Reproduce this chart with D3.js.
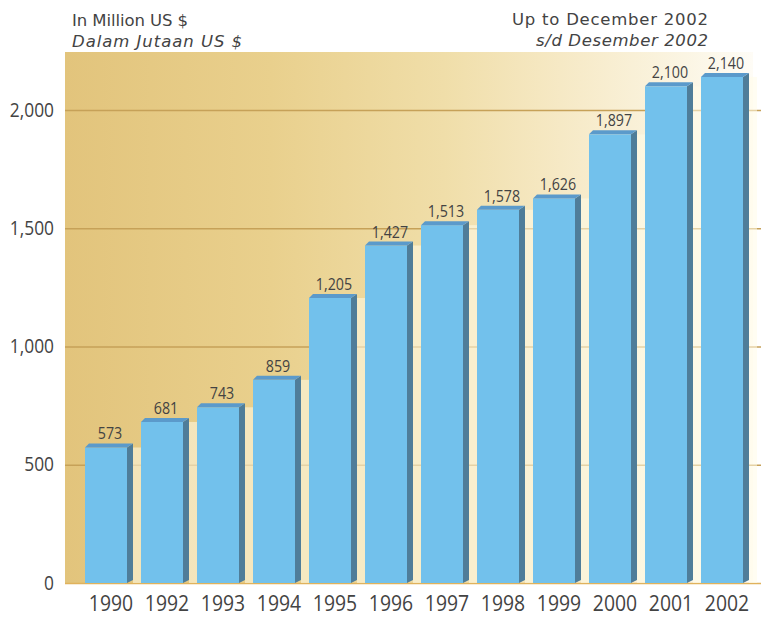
<!DOCTYPE html>
<html><head><meta charset="utf-8">
<script src="https://cdn.jsdelivr.net/npm/d3@7"></script>
<style>
body{margin:0;background:#fff}
svg{display:block}
text{font-family:"Open Sans",sans-serif}
</style>
</head><body>
<svg id="c" width="761" height="618"></svg>
<script>
// ---- data ----
const years = ["1990","1992","1993","1994","1995","1996","1997","1998","1999","2000","2001","2002"];
const values = [573,681,743,859,1205,1427,1513,1578,1626,1897,2100,2140];
const yTicks = [0,500,1000,1500,2000];
const unitTitles = ["In Million US $","Dalam Jutaan US $"];
const periodTitles = ["Up to December 2002","s/d Desember 2002"];

// ---- layout ----
const plot = {left:65, right:753, top:52, bottom:583};
const depthX = 6, depthY = 4;
const textColor = "#434343";

const svg = d3.select("#c");
const defs = svg.append("defs");
const grad = defs.append("linearGradient").attr("id","bg")
  .attr("x1","0").attr("x2","1").attr("y1","0").attr("y2","0");
[[0,"#e2c47c"],[0.3,"#e9d08d"],[0.55,"#f0dea9"],[0.75,"#f7ebca"],[0.9,"#fbf5e3"],[1,"#fefcf6"]]
  .forEach(([o,c]) => grad.append("stop").attr("offset",o).attr("stop-color",c));

svg.append("rect")
  .attr("x",plot.left).attr("y",plot.top)
  .attr("width",plot.right-plot.left).attr("height",plot.bottom-plot.top)
  .attr("fill","url(#bg)");

const y = d3.scaleLinear().domain([0,2000]).range([plot.bottom,110]);
const x = d3.scaleBand().domain(years).range([71,757]).paddingInner(0.25).paddingOuter(0.25);
const bw = x.bandwidth();

// gridlines + y labels
const ya = svg.append("g")
  .attr("transform",`translate(${plot.left},0)`)
  .attr("font-family","'Open Sans',sans-serif")
  .call(d3.axisLeft(y).tickValues(yTicks).tickFormat(d3.format(","))
        .tickSizeInner(-(761-plot.left)).tickSizeOuter(0).tickPadding(0));
ya.select(".domain").remove();
ya.selectAll(".tick line")
  .attr("stroke", d => d === 0 ? "#e0b25c" : "#c6a158")
  .attr("stroke-width", 1.5);
ya.selectAll(".tick text")
  .attr("x",0).attr("dy",null)
  .attr("transform","translate(-11,6) scale(0.89,1)")
  .attr("font-size",19.5).attr("fill",textColor);

// bars
const bars = svg.append("g").selectAll("g").data(years).join("g");
// light strip to the right of each bar
bars.append("rect")
  .attr("x", (d) => x(d)+bw+depthX)
  .attr("y", (d,i) => y(values[i]))
  .attr("width", 8)
  .attr("height", (d,i) => y(0)-y(values[i]))
  .attr("fill","#fffbe8").attr("opacity",0.55);
// side face
bars.append("polygon")
  .attr("points",(d,i) => {
    const x0 = x(d)+bw, yt = y(values[i]), yb = y(0);
    return [[x0,yt],[x0+depthX,yt-depthY],[x0+depthX,yb-3],[x0,yb]].map(p=>p.join(",")).join(" ");
  })
  .attr("fill","#4f7d99");
// front face
bars.append("rect")
  .attr("x", d => x(d))
  .attr("y", (d,i) => y(values[i]))
  .attr("width", bw)
  .attr("height", (d,i) => y(0)-y(values[i]))
  .attr("fill","#72c1ec");
// top face
bars.append("polygon")
  .attr("points",(d,i) => {
    const x0 = x(d), yt = y(values[i]);
    return [[x0,yt],[x0+bw,yt],[x0+bw+depthX,yt-depthY],[x0+depthX-2,yt-depthY]].map(p=>p.join(",")).join(" ");
  })
  .attr("fill","#5b9acb");

// value labels
bars.append("text")
  .attr("transform",(d,i) => `translate(${x(d)+bw/2+4},${y(values[i])-8}) scale(0.84,1)`)
  .attr("text-anchor","middle")
  .attr("font-size",17).attr("fill",textColor)
  .text((d,i) => d3.format(",")(values[i]));

// x axis labels
const xa = svg.append("g")
  .attr("transform",`translate(0,${plot.bottom})`)
  .attr("font-family","'Open Sans',sans-serif")
  .call(d3.axisBottom(x).tickSize(0).tickPadding(0));
xa.select(".domain").remove();
xa.selectAll(".tick text")
  .attr("y",0).attr("dy",null)
  .attr("transform","translate(5,28) scale(0.88,1)")
  .attr("font-size",22).attr("fill",textColor);

// titles
const unitWidths = [116,170], periodWidths = [196,172];
svg.append("g").selectAll("text").data(unitTitles).join("text")
  .attr("x",72).attr("y",(d,i) => 26 + i*21)
  .style("font-family","'DejaVu Sans',sans-serif")
  .attr("font-size",16.5).attr("fill",textColor)
  .attr("textLength",(d,i) => unitWidths[i]).attr("lengthAdjust","spacing")
  .attr("font-style",(d,i) => i ? "italic" : "normal")
  .text(d => d);
svg.append("g").selectAll("text").data(periodTitles).join("text")
  .attr("x",(d,i) => 708 - periodWidths[i]).attr("y",(d,i) => 25 + i*21)
  .style("font-family","'DejaVu Sans',sans-serif")
  .attr("font-size",16.5).attr("fill",textColor)
  .attr("textLength",(d,i) => periodWidths[i]).attr("lengthAdjust","spacing")
  .attr("font-style",(d,i) => i ? "italic" : "normal")
  .text(d => d);
</script>
</body></html>
